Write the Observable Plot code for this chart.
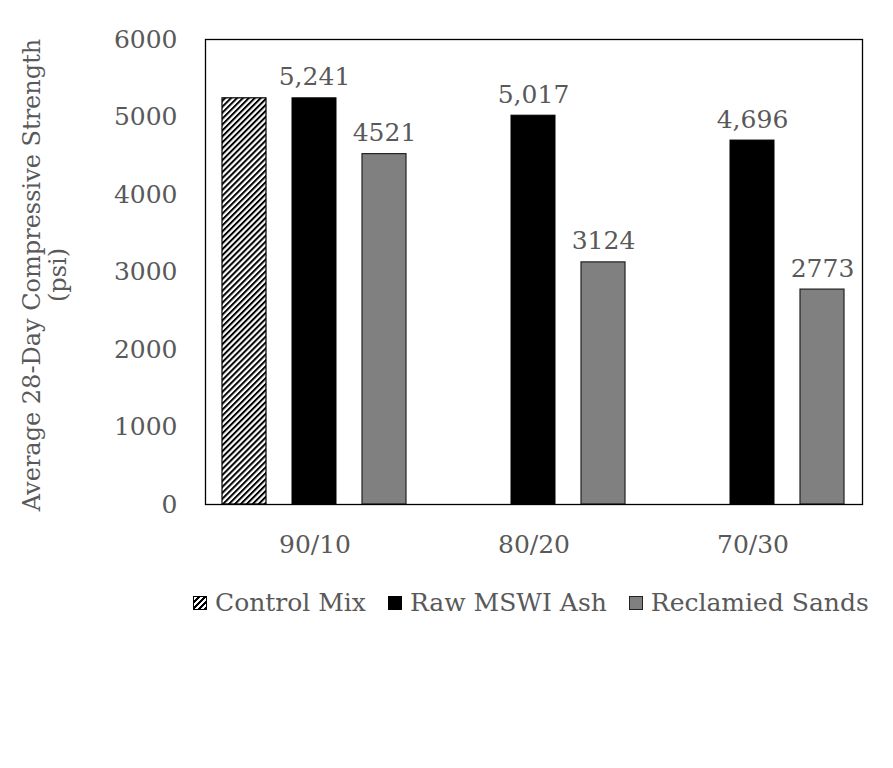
<!DOCTYPE html>
<html>
<head>
<meta charset="utf-8">
<script src="https://cdn.jsdelivr.net/npm/d3@7"></script>
<script src="https://cdn.jsdelivr.net/npm/@observablehq/plot@0.6"></script>
<style>
  body { margin: 0; background: #fff; }
  #wrap { position: relative; width: 893px; height: 768px; font-family: "DejaVu Serif", serif; color: #595959; }
  #ylabel { position: absolute; left: 45px; top: 275px; width: 0; height: 0; }
  #ylabel div { position: absolute; transform: translate(-50%, -50%) rotate(-90deg); white-space: nowrap; text-align: center; font-size: 24px; line-height: 26px; }
  #legend { position: absolute; left: 193px; top: 588px; display: flex; align-items: center; font-size: 25px; white-space: nowrap; }
  .item { display: flex; align-items: center; margin-right: 22px; }
  .sw { width: 14px; height: 14px; border: 1px solid #000; margin-right: 8px; box-sizing: border-box; }
</style>
</head>
<body>
<div id="wrap">
  <div id="chart"></div>
  <div id="ylabel"><div>Average 28-Day Compressive Strength<br>(psi)</div></div>
  <div id="legend"></div>
</div>
<script>
const groups = ["90/10", "80/20", "70/30"];
const series = ["Control Mix", "Raw MSWI Ash", "Reclamied Sands"];
const controlGroups = ["90/10"];
const controlValues = [5241];
const rawValues = [5241, 5017, 4696];
const rawLabels = ["5,241", "5,017", "4,696"];
const reclaimedValues = [4521, 3124, 2773];
const reclaimedLabels = ["4521", "3124", "2773"];
const yTicks = [0, 1000, 2000, 3000, 4000, 5000, 6000];

const controlData = controlGroups.map((g, i) => ({group: g, series: series[0], value: controlValues[i]}));
const rawData = groups.map((g, i) => ({group: g, series: series[1], value: rawValues[i], label: rawLabels[i]}));
const recData = groups.map((g, i) => ({group: g, series: series[2], value: reclaimedValues[i], label: reclaimedLabels[i]}));

const textColor = "#595959";
const fontFamily = "DejaVu Serif, serif";

const plot = Plot.plot({
  width: 893,
  height: 580,
  marginTop: 39,
  marginBottom: 76,
  marginLeft: 204,
  marginRight: 31,
  style: {fontFamily, fontSize: "25px", color: textColor, background: "white"},
  fx: {domain: groups, padding: 0, paddingOuter: 0, label: null, axis: "bottom", tickSize: 0, tickPadding: 31},
  x: {domain: series, paddingInner: 0.37, paddingOuter: 0.23, axis: null},
  y: {domain: [0, 6000], ticks: yTicks, tickFormat: d => String(d), tickSize: 0, tickPadding: 28, label: null},
  marks: [
    Plot.barY(controlData, {fx: "group", x: "series", y: "value", fill: "url(#hatch)", stroke: "#000", strokeWidth: 1.2}),
    Plot.barY(rawData, {fx: "group", x: "series", y: "value", fill: "#000", stroke: "#000"}),
    Plot.barY(recData, {fx: "group", x: "series", y: "value", fill: "#808080", stroke: "#222", strokeWidth: 1.2}),
    Plot.text(rawData, {fx: "group", x: "series", y: "value", text: "label", dy: -21, fill: textColor, fontSize: 25}),
    Plot.text(recData, {fx: "group", x: "series", y: "value", text: "label", dy: -21, fill: textColor, fontSize: 25}),
    Plot.frame({facet: "super", stroke: "#000", strokeWidth: 1.3})
  ]
});

// hatch pattern definition
const ns = "http://www.w3.org/2000/svg";
const defs = document.createElementNS(ns, "defs");
const pat = document.createElementNS(ns, "pattern");
pat.setAttribute("id", "hatch");
pat.setAttribute("patternUnits", "userSpaceOnUse");
pat.setAttribute("width", "4.2");
pat.setAttribute("height", "10");
pat.setAttribute("patternTransform", "rotate(45)");
const bg = document.createElementNS(ns, "rect");
bg.setAttribute("width", "4.2"); bg.setAttribute("height", "10"); bg.setAttribute("fill", "#fff");
const ln = document.createElementNS(ns, "rect");
ln.setAttribute("width", "2"); ln.setAttribute("height", "10"); ln.setAttribute("fill", "#000");
pat.appendChild(bg); pat.appendChild(ln);
defs.appendChild(pat);
plot.insertBefore(defs, plot.firstChild);

document.getElementById("chart").appendChild(plot);

// legend
const swatchStyles = [
  "background: repeating-linear-gradient(-45deg, #000 0 2px, #fff 2px 4.2px);",
  "background: #000;",
  "background: #808080; border-color: #222;"
];
const legend = document.getElementById("legend");
series.forEach((s, i) => {
  const it = document.createElement("div");
  it.className = "item";
  const sw = document.createElement("div");
  sw.className = "sw";
  sw.setAttribute("style", swatchStyles[i]);
  const t = document.createElement("span");
  t.textContent = s;
  it.appendChild(sw); it.appendChild(t);
  legend.appendChild(it);
});
</script>
</body>
</html>
